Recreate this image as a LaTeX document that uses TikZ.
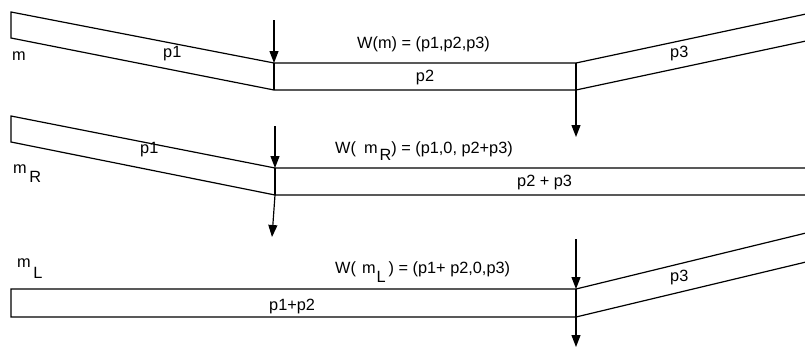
\documentclass[tikz,border=0pt]{standalone}
\usepackage{fontspec}
\setmainfont{Liberation Sans}
\usetikzlibrary{arrows.meta}
\begin{document}
\begin{tikzpicture}[x=1pt,y=-1pt,
  band/.style={line width=1.2pt,line join=miter},
  load/.style={line width=1.2pt,-{Triangle[length=12pt,width=9pt]}},
  lbl/.style={anchor=base west,inner sep=0pt,font=\fontsize{16.3}{19}\selectfont}]
\useasboundingbox (0,0) rectangle (805,348);
% ---------- row 1 ----------
\coordinate (a1) at (11,12);  \coordinate (b1) at (11,38);
\coordinate (c1) at (274,63); \coordinate (d1) at (274,90);
\coordinate (e1) at (576,63); \coordinate (f1) at (576,90);
\coordinate (g1) at (806,14); \coordinate (h1) at (806,41);
\draw[band] (g1) -- (e1) -- (c1) -- (a1) -- (b1) -- (d1) -- (f1) -- (h1);
\draw[band] (c1) -- (d1) (e1) -- (f1);
\coordinate (s1) at (274,20); \coordinate (t1) at (576,137);
\draw[load] (s1) -- (c1);
\draw[load] (f1) -- (t1);
\node[lbl] (m1) at (12,60) {m};
\node[lbl] (p11) at (163,57) {p1};
\node[lbl] (w1) at (357,48) {W(m) = (p1,p2,p3)};
\node[lbl,anchor=base] (p21) at (425,81) {p2};
\node[lbl] (p31) at (670,57) {p3};
% ---------- row 2 ----------
\coordinate (a2) at (11,116);  \coordinate (b2) at (11,142);
\coordinate (c2) at (275,168); \coordinate (d2) at (275,195);
\coordinate (g2) at (806,168); \coordinate (h2) at (806,195);
\draw[band] (g2) -- (c2) -- (a2) -- (b2) -- (d2) -- (h2);
\draw[band] (c2) -- (d2);
\coordinate (s2) at (275,126); \coordinate (t2) at (272,237);
\draw[load] (s2) -- (c2);
\draw[load] (d2) -- (t2);
\node[lbl] (m2) at (13,173) {m\kern2.5pt\raisebox{-9pt}{R}};
\node[lbl] (p12) at (140,153) {p1};
\node[lbl] (w2) at (335,153) {W(\kern8pt m\kern2pt\raisebox{-7pt}{R}) = (p1,0, p2+p3)};
\node[lbl] (p22) at (517,186) {p2 + p3};
% ---------- row 3 ----------
\coordinate (a3) at (11,289);  \coordinate (b3) at (11,317);
\coordinate (c3) at (576,289); \coordinate (d3) at (576,317);
\coordinate (g3) at (806,233); \coordinate (h3) at (806,262);
\draw[band] (g3) -- (c3) -- (a3) -- (b3) -- (d3) -- (h3);
\draw[band] (c3) -- (d3);
\coordinate (s3) at (576,239); \coordinate (t3) at (576,347);
\draw[load] (s3) -- (c3);
\draw[load] (d3) -- (t3);
\node[lbl] (m3) at (17,267) {m\kern2.5pt\raisebox{-11pt}{L}};
\node[lbl] (w3) at (335,273) {W(\kern6pt m\kern1pt\raisebox{-9pt}{L}\kern3pt) = (p1+ p2,0,p3)};
\node[lbl] (p13) at (269,310) {p1+p2};
\node[lbl] (p33) at (670,281) {p3};
\end{tikzpicture}
\end{document}
